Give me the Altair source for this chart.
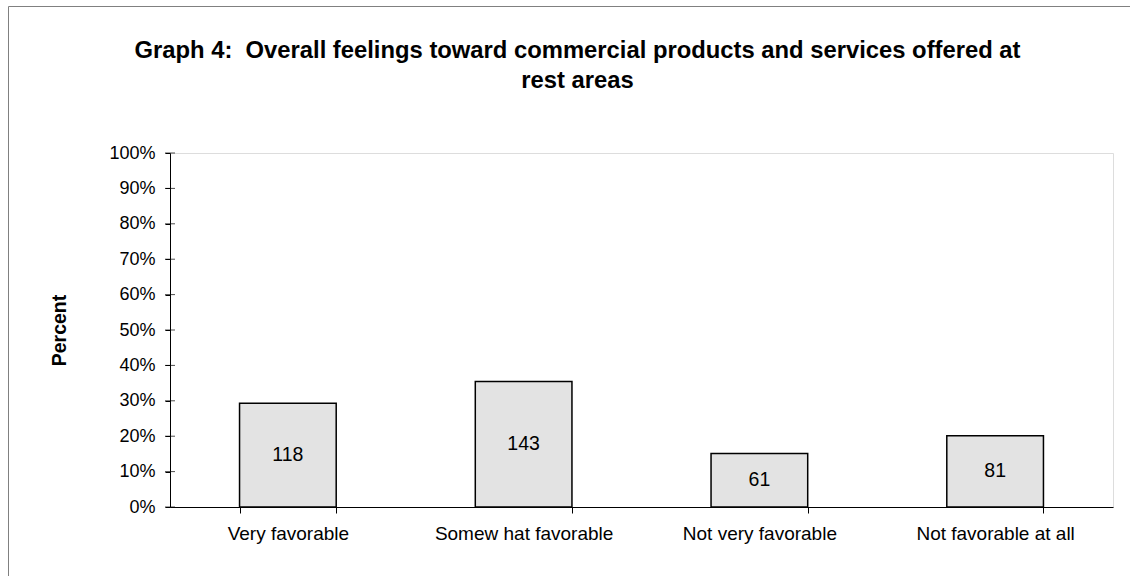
import altair as alt
import pandas as pd

FONT = "Liberation Sans"

categories = ["Very favorable", "Somew hat favorable", "Not very favorable", "Not favorable at all"]
counts = [118, 143, 61, 81]
y_ticks = [0, 0.1, 0.2, 0.3, 0.4, 0.5, 0.6, 0.7, 0.8, 0.9, 1.0]
title_lines = [
    "Graph 4:\u00a0 Overall feelings toward commercial products and services offered at",
    "rest areas",
]

total = sum(counts)
df = pd.DataFrame({"category": categories, "count": counts})
df["pct"] = df["count"] / total
df["mid"] = df["pct"] / 2
ticks_df = pd.DataFrame({"t": y_ticks})

x_enc = alt.X(
    "category:N",
    sort=categories,
    title=None,
    scale=alt.Scale(paddingInner=0.59, paddingOuter=0.295),
    axis=alt.Axis(
        labelAngle=0,
        tickBand="extent",
        domainColor="black",
        tickColor="black",
        labelColor="black",
        labelFont=FONT,
        labelFontSize=19,
        tickSize=6,
        labelPadding=11,
    ),
)

y_scale = alt.Scale(domain=[0, 1])
y_axis = alt.Axis(
    values=y_ticks,
    format=".0%",
    grid=False,
    labelOverlap=False,
    labelBound=False,
    title="Percent",
    titleFont=FONT,
    titleFontSize=19.5,
    titleFontWeight="bold",
    titleColor="black",
    titleX=-105,
    titleY=177,
    titleAngle=270,
    titleBaseline="alphabetic",
    titleAlign="center",
    labelFont=FONT,
    labelFontSize=18,
    labelColor="black",
    domainColor="black",
    tickColor="black",
    tickSize=5,
    labelPadding=10,
)

bars = alt.Chart(df).mark_bar(
    fill="#e3e3e3", stroke="black", strokeWidth=1.5
).encode(
    x=x_enc,
    y=alt.Y("pct:Q", scale=y_scale, axis=y_axis),
)

labels = alt.Chart(df).mark_text(
    font=FONT, fontSize=19.5, color="black", baseline="middle", align="center"
).encode(
    x=alt.X("category:N", sort=categories),
    y=alt.Y("mid:Q", scale=y_scale, axis=y_axis),
    text="count:Q",
)

inner_ticks = alt.Chart(ticks_df).mark_tick(
    orient="horizontal", color="black", size=10, thickness=1
).encode(
    x=alt.value(0),
    y=alt.Y("t:Q", scale=y_scale, axis=y_axis),
)

border = alt.Chart(pd.DataFrame({"a": [0]})).mark_rect(
    fillOpacity=0, stroke="#808080", strokeWidth=1
).encode(
    x=alt.value(-161.5), x2=alt.value(995), y=alt.value(-146.5), y2=alt.value(470)
)

chart = alt.layer(bars, labels, inner_ticks, border).properties(
    width=943,
    height=354,
    title=alt.Title(
        title_lines,
        font=FONT,
        fontSize=23.8,
        fontWeight="bold",
        color="black",
        anchor="middle",
        dx=-64,
        dy=87,
        offset=0,
        lineHeight=30,
    ),
    padding={"left": 170, "top": 153, "right": 17, "bottom": 69},
    autosize=alt.AutoSizeParams(type="none"),
).configure_view(stroke="#808080", strokeWidth=1).configure(background="white")

chart.save("out.html", embed_options={"renderer": "svg", "actions": False})
